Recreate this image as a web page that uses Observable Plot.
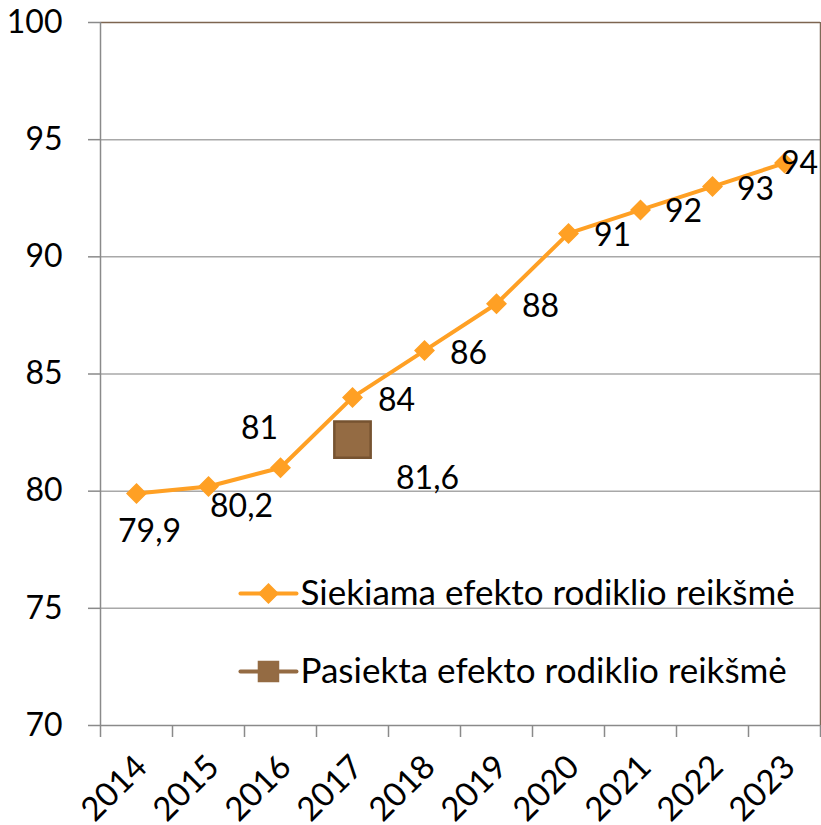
<!DOCTYPE html>
<html>
<head>
<meta charset="utf-8">
<script src="https://cdn.jsdelivr.net/npm/d3@7"></script>
<script src="https://cdn.jsdelivr.net/npm/@observablehq/plot@0.6"></script>
<style>
  html, body { margin: 0; padding: 0; background: white; }
  #chart svg { display: block; }
</style>
</head>
<body>
<div id="chart"></div>
<script>
// ---- data ----
const years = [2014, 2015, 2016, 2017, 2018, 2019, 2020, 2021, 2022, 2023];
const targetValues = [79.9, 80.2, 81, 84, 86, 88, 91, 92, 93, 94];
const targetLabels = ["79,9", "80,2", "81", "84", "86", "88", "91", "92", "93", "94"];
const achievedYears = [2017];
const achievedValues = [82.2];
const achievedLabels = ["81,6"];
const yTicks = [70, 75, 80, 85, 90, 95, 100];
const seriesNames = ["Siekiama efekto rodiklio reikšmė", "Pasiekta efekto rodiklio reikšmė"];

// ---- styling ----
const orange = "#FFA024";
const brown = "#946B43";
const brownDark = "#765331";
const axisGray = "#8a8a8a";
const gridGray = "#a8a8a8";
const FONT = "Lato, 'Noto Sans', sans-serif";
const NUM = 32;   // number font size
const XLAB = 33;  // year label font size
const LEG = 35;   // legend font size

const target = years.map((y, i) => ({year: y, value: targetValues[i], label: targetLabels[i], i}));
const achieved = achievedYears.map((y, i) => ({year: y, value: achievedValues[i], label: achievedLabels[i]}));

// label placement (pixel offsets) per point, like the spreadsheet's manual label positions
const labelOffset = i => [[13, 38], [33, 20], [-21, -39], [44, 3], [44, 3], [44, 3], [44, 2], [43, 2], [43, 3], [15, 1]][i];

const step = years[1] - years[0];
const boundaries = years.map(y => y - step / 2).concat([years[years.length - 1] + step / 2]);
const x0 = boundaries[0], x1 = boundaries[boundaries.length - 1];

// legend placement in data space
const legX = [x0 + 1.944, x0 + 2.722];
const legTextX = x0 + 2.778;
const legY = [75.63, 72.3];

const plot = Plot.plot({
  width: 821,
  height: 825,
  marginLeft: 100,
  marginRight: 1,
  marginTop: 22,
  marginBottom: 100,
  style: {fontFamily: FONT, fontSize: NUM + "px", color: "black", background: "white", overflow: "visible"},
  x: {domain: [x0, x1]},
  y: {domain: [yTicks[0], yTicks[yTicks.length - 1]]},
  marks: [
    Plot.ruleY(yTicks.slice(1, -1), {stroke: gridGray, strokeWidth: 1.5}),
    Plot.ruleY(yTicks.slice(-1), {stroke: "#7d6550", strokeWidth: 1.5}),
    Plot.ruleX([x1], {stroke: "#7d6a58", strokeWidth: 1.5}),
    Plot.ruleX([x0], {stroke: axisGray, strokeWidth: 1.5}),
    Plot.ruleY(yTicks.slice(0, 1), {stroke: axisGray, strokeWidth: 1.5}),
    Plot.axisY({ticks: yTicks, tickSize: 12, tickPadding: 26, stroke: axisGray, strokeWidth: 1.5, tickFormat: d => String(d), fontSize: NUM, label: null}),
    Plot.axisX({ticks: boundaries, tickSize: 12, tickFormat: () => "", stroke: axisGray, strokeWidth: 1.5, label: null}),
    Plot.axisX({ticks: years, tickSize: 0, tickPadding: 36, tickRotate: -45, tickFormat: d => String(d), fontSize: XLAB, label: null, dx: 5}),
    // target series
    Plot.line(target, {x: "year", y: "value", stroke: orange, strokeWidth: 4}),
    Plot.dot(target, {x: "year", y: "value", symbol: "diamond2", r: 8.5, fill: orange, stroke: orange}),
    Plot.text(target, {x: "year", y: "value", text: "label", fontSize: NUM, textAnchor: "middle",
      render: (index, scales, values, dims, ctx, next) => {
        const g = next(index, scales, values, dims, ctx);
        d3.select(g).selectAll("text").each(function(_, k) {
          const i = index[k];
          const [ox, oy] = labelOffset(i);
          this.setAttribute("transform", `translate(${values.x[i] + ox},${values.y[i] + oy})`);
          this.removeAttribute("x"); this.removeAttribute("y");
          this.setAttribute("dy", "0.32em");
        });
        return g;
      }}),
    // achieved series
    Plot.dot(achieved, {x: "year", y: "value", symbol: "square", r: 20.5, fill: brown, stroke: brownDark, strokeWidth: 2.5}),
    Plot.text(achieved, {x: "year", y: "value", text: "label", fontSize: NUM, dx: 75, dy: 39, textAnchor: "middle"}),
    // legend
    Plot.line([legX[0], legX[1]], {x: d => d, y: () => legY[0], stroke: orange, strokeWidth: 4}),
    Plot.dot([(legX[0] + legX[1]) / 2], {x: d => d, y: () => legY[0], symbol: "diamond2", r: 8.5, fill: orange, stroke: orange}),
    Plot.text([seriesNames[0]], {x: () => legTextX, y: () => legY[0], text: d => d, textAnchor: "start", fontSize: LEG}),
    Plot.line([legX[0], legX[1]], {x: d => d, y: () => legY[1], stroke: brown, strokeWidth: 4}),
    Plot.dot([(legX[0] + legX[1]) / 2], {x: d => d, y: () => legY[1], symbol: "square", r: 11.3, fill: brown, stroke: brown}),
    Plot.text([seriesNames[1]], {x: () => legTextX, y: () => legY[1], text: d => d, textAnchor: "start", fontSize: LEG})
  ]
});
document.getElementById("chart").appendChild(plot);
</script>
</body>
</html>
